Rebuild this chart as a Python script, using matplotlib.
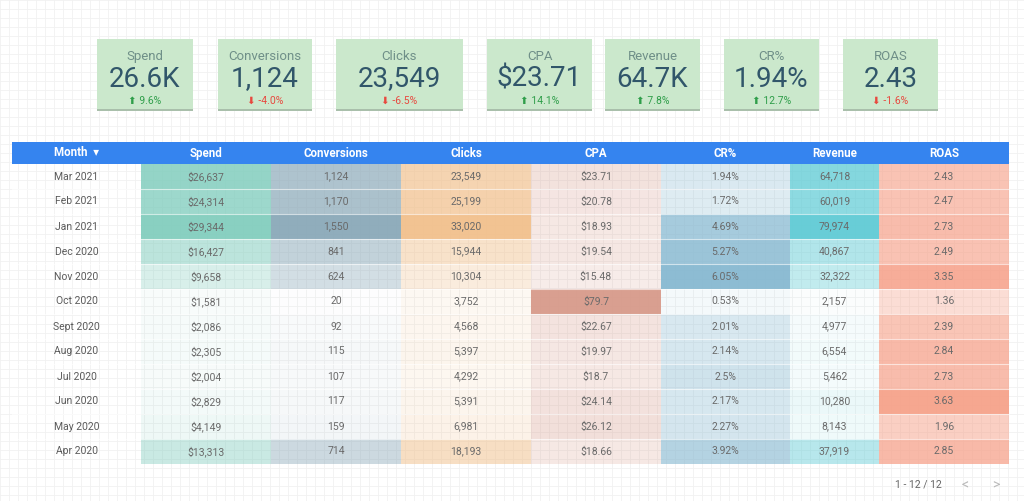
import matplotlib
matplotlib.use("Agg")
import matplotlib.pyplot as plt
from matplotlib.patches import Rectangle
import numpy as np

# ---------------- data ----------------
kpi_names = ["Spend", "Conversions", "Clicks", "CPA", "Revenue", "CR%", "ROAS"]
kpi_values = ["26.6K", "1,124", "23,549", "$23.71", "64.7K", "1.94%", "2.43"]
kpi_deltas = [9.6, -4.0, -6.5, 14.1, 7.8, 12.7, -1.6]

months = ["Mar 2021", "Feb 2021", "Jan 2021", "Dec 2020", "Nov 2020", "Oct 2020",
          "Sept 2020", "Aug 2020", "Jul 2020", "Jun 2020", "May 2020", "Apr 2020"]
spend = [26637, 24314, 29344, 16427, 9658, 1581, 2086, 2305, 2004, 2829, 4149, 13313]
conversions = [1124, 1170, 1550, 841, 624, 20, 92, 115, 107, 117, 159, 714]
clicks = [23549, 25199, 33020, 15944, 10304, 3752, 4568, 5397, 4292, 5391, 6981, 18193]
cpa = [23.71, 20.78, 18.93, 19.54, 15.48, 79.7, 22.67, 19.97, 18.7, 24.14, 26.12, 18.66]
cr = [1.94, 1.72, 4.69, 5.27, 6.05, 0.53, 2.01, 2.14, 2.5, 2.17, 2.27, 3.92]
revenue = [64718, 60019, 79974, 40867, 32322, 2157, 4977, 6554, 5462, 10280, 8143, 37919]
roas = [2.43, 2.47, 2.73, 2.49, 3.35, 1.36, 2.39, 2.84, 2.73, 3.63, 1.96, 2.85]
columns = ["Spend", "Conversions", "Clicks", "CPA", "CR%", "Revenue", "ROAS"]
pagination = "1 - 12 / 12"

# ---------------- layout / style ----------------
W, H = 1024, 501
fig = plt.figure(figsize=(W / 100, H / 100), dpi=100)
ax = fig.add_axes([0, 0, 1, 1])
ax.set_xlim(0, W)
ax.set_ylim(H, 0)
ax.axis("off")
FONT = ["Roboto", "DejaVu Sans"]

# background grid
for gx in np.arange(0, W, 9):
    ax.axvline(gx, color="#f1f1f1", lw=0.6, zorder=0)
for gy in np.arange(0, H, 9):
    ax.axhline(gy, color="#f1f1f1", lw=0.6, zorder=0)

# KPI cards
card_x = [(97, 193), (218, 312), (336, 463), (487, 592), (605, 700), (724, 819), (843, 938)]
cy0, cy1 = 39, 109
for (x0, x1), name, val, d in zip(card_x, kpi_names, kpi_values, kpi_deltas):
    ax.add_patch(Rectangle((x0, cy0 + 2), x1 - x0, cy1 - cy0, color="#a9bfab", zorder=2, lw=0))
    ax.add_patch(Rectangle((x0, cy0), x1 - x0, cy1 - cy0, color="#cbe8cc", zorder=3, lw=0))
    xc = (x0 + x1) / 2
    ax.text(xc, 56, name, ha="center", va="center", fontsize=9.5, color="#6f8f88",
            family=FONT, zorder=4)
    ax.text(xc, 79, val, ha="center", va="center", fontsize=20, color="#31566a",
            family=FONT, zorder=4)
    col = "#2f9e4a" if d >= 0 else "#e8483e"
    arrow = "⬆" if d >= 0 else "⬇"
    ax.text(xc, 101, f"{arrow} {d:.1f}%", ha="center", va="center", fontsize=7.5,
            color=col, family=FONT, zorder=4)

# table
col_edges = [12, 141, 271, 401, 531, 661, 790, 879, 1009]
header_y0, header_y1 = 142, 164
row_h = 25
series = [spend, conversions, clicks, cpa, cr, revenue, roas]
bases = ["#80cdbd", "#88a7b7", "#f1bf8a", "#d69888", "#84b7d0", "#5ccad4", "#f6a088"]

def fmt(ci, v):
    if ci == 0:
        return f"${v:,.0f}"
    if ci in (1, 2, 5):
        return f"{v:,.0f}"
    if ci == 3:
        return f"${v:g}"
    if ci == 4:
        return f"{v:g}%"
    return f"{v:.2f}"

ax.add_patch(Rectangle((col_edges[0], header_y0), col_edges[-1] - col_edges[0],
                       header_y1 - header_y0, color="#3584ef", lw=0, zorder=3))
ax.text((col_edges[0] + col_edges[1]) / 2, (header_y0 + header_y1) / 2, "Month  ▾",
        ha="center", va="center", fontsize=8.3, color="white", weight="bold",
        family=FONT, zorder=4)
for ci, name in enumerate(columns):
    xc = (col_edges[ci + 1] + col_edges[ci + 2]) / 2
    ax.text(xc, (header_y0 + header_y1) / 2 + 0.5, name, ha="center", va="center",
            fontsize=8.3, color="white", weight="bold", family=FONT, zorder=4)

for ri, m in enumerate(months):
    y0 = header_y1 + ri * row_h
    yc = y0 + row_h / 2
    ax.text((col_edges[0] + col_edges[1]) / 2, yc, m, ha="center", va="center",
            fontsize=7.5, color="#5a5a5a", family=FONT, zorder=4)
    for ci, vals in enumerate(series):
        v = vals[ri]
        a = v / max(vals)
        x0, x1 = col_edges[ci + 1], col_edges[ci + 2]
        ax.add_patch(Rectangle((x0, y0), x1 - x0, row_h, facecolor=bases[ci],
                               alpha=a * 0.93, lw=0, zorder=2))
        ax.text((x0 + x1) / 2, yc, fmt(ci, v), ha="center", va="center",
                fontsize=7.5, color="#6a6a6a", family=FONT, zorder=4)
    if ri > 0:
        ax.plot([col_edges[0], col_edges[-1]], [y0, y0], color="white", lw=0.8,
                alpha=0.6, zorder=3)

# pagination
ax.text(918, 485, pagination, ha="center", va="center", fontsize=7.5,
        color="#666666", family=FONT, zorder=4)
ax.text(965, 485, "<", ha="center", va="center", fontsize=10, color="#bbbbbb",
        family=FONT, zorder=4)
ax.text(996, 485, ">", ha="center", va="center", fontsize=10, color="#bbbbbb",
        family=FONT, zorder=4)

fig.savefig("out.png", dpi=100)
